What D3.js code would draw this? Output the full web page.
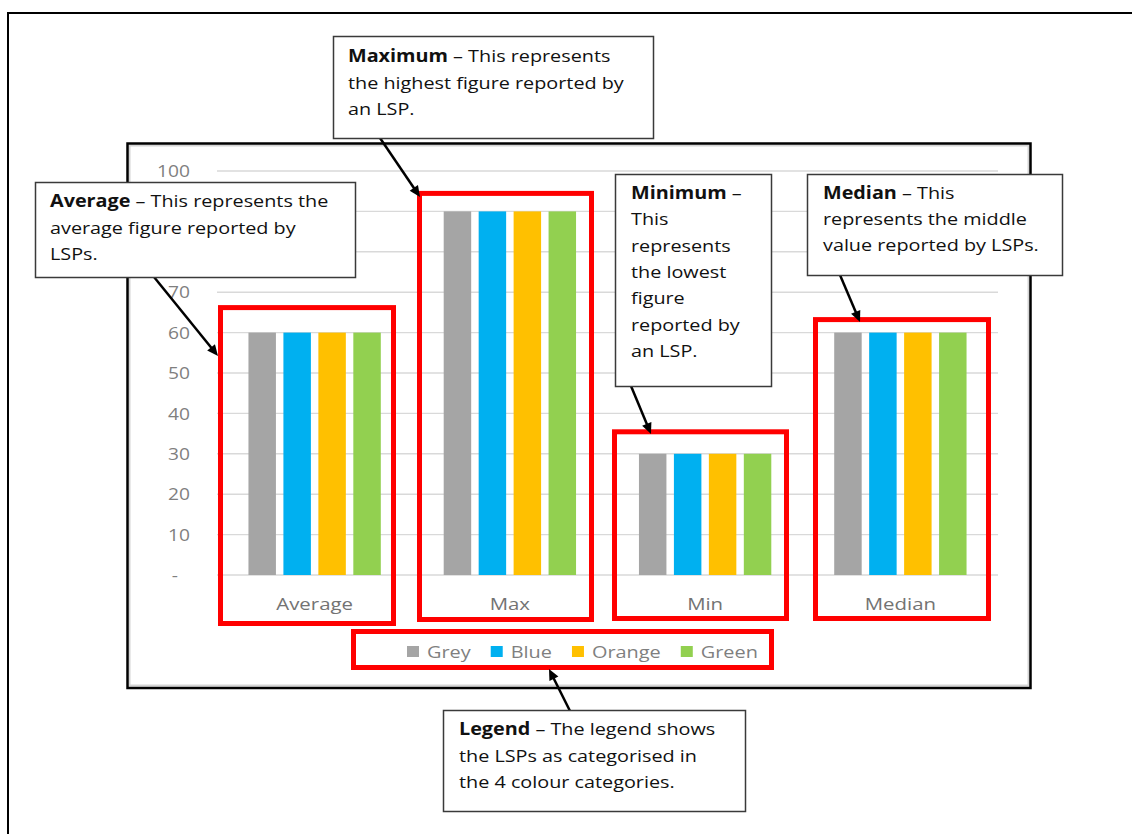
<!DOCTYPE html>
<html>
<head>
<meta charset="utf-8">
<script src="https://cdn.jsdelivr.net/npm/d3@7"></script>
<style>
  body { margin: 0; background: #fff; }
  svg { display: block; }
  text { font-family: "Open Sans", "Noto Sans", sans-serif; }
</style>
</head>
<body>
<svg id="chart" width="1132" height="834"></svg>
<script>
// ---- data ----
const categories = ["Average", "Max", "Min", "Median"];
const seriesNames = ["Grey", "Blue", "Orange", "Green"];
const greyValues = [60, 90, 30, 60];
const blueValues = [60, 90, 30, 60];
const orangeValues = [60, 90, 30, 60];
const greenValues = [60, 90, 30, 60];
const yTickValues = [0, 10, 20, 30, 40, 50, 60, 70, 80, 90, 100];
const seriesColors = ["#A5A5A5", "#00B0F0", "#FFC000", "#92D050"];

// explanatory notes placed around the chart
const noteTitles = ["Average", "Maximum", "Minimum", "Median", "Legend"];
const noteBodies = [
  ["This represents the", "average figure reported by", "LSPs."],
  ["This represents", "the highest figure reported by", "an LSP."],
  ["", "This", "represents", "the lowest", "figure", "reported by", "an LSP."],
  ["This", "represents the middle", "value reported by LSPs."],
  ["The legend shows", "the LSPs as categorised in", "the 4 colour categories."]
];

const seriesValues = [greyValues, blueValues, orangeValues, greenValues];
const rows = categories.map((c, i) => ({
  category: c,
  values: seriesNames.map((s, k) => ({ series: s, value: seriesValues[k][i], color: seriesColors[k] }))
}));

const svg = d3.select("#chart");
const SX = 1.2;              // horizontal stretch for chart lettering
const SX_NOTE = 1.165;       // horizontal stretch for note lettering
const SX_LEG = 1.17;
const DASH = "\u2013";

// page frame
svg.append("rect").attr("x", 8).attr("y", 13).attr("width", 1200).attr("height", 900)
  .attr("fill", "none").attr("stroke", "#000").attr("stroke-width", 2);

// chart frame
svg.append("rect").attr("x", 129.5).attr("y", 145.5).attr("width", 899).attr("height", 540)
  .attr("fill", "#fff").attr("stroke", "#d4d4d4").attr("stroke-width", 2);
svg.append("rect").attr("x", 127.5).attr("y", 143.5).attr("width", 903).attr("height", 544.5)
  .attr("fill", "none").attr("stroke", "#000").attr("stroke-width", 2.5);

// ---- scales ----
const plotLeft = 217, plotRight = 998, plotTop = 171, plotBottom = 575;
const y = d3.scaleLinear().domain([0, 100]).range([plotBottom, plotTop]);
const x0 = d3.scaleBand().domain(categories).range([plotLeft, plotRight]).padding(0);
const x1 = d3.scaleBand().domain(seriesNames).range([0, x0.bandwidth()])
  .paddingInner(0.214).paddingOuter(0.9);

// gridlines
svg.append("g").selectAll("line").data(yTickValues).join("line")
  .attr("x1", plotLeft).attr("x2", plotRight)
  .attr("y1", d => y(d)).attr("y2", d => y(d))
  .attr("stroke", "#d9d9d9").attr("stroke-width", 1.4);

// y axis labels
const yAxis = svg.append("g").attr("transform", `translate(${plotLeft},0)`)
  .call(d3.axisLeft(y).tickValues(yTickValues).tickSize(0)
    .tickFormat(d => d === 0 ? "-" : d3.format("d")(d)));
yAxis.select(".domain").remove();
yAxis.selectAll("text")
  .attr("font-family", "Open Sans").attr("font-size", 16).attr("fill", "#7f7f7f")
  .attr("dy", "0.36em")
  .attr("x", d => (d === 0 ? -39 : -27) / SX)
  .attr("transform", `scale(${SX},1)`);

// category labels
const xAxis = svg.append("g").attr("transform", `translate(0,${plotBottom})`)
  .call(d3.axisBottom(x0).tickSize(0));
xAxis.select(".domain").remove();
xAxis.selectAll(".tick text")
  .attr("font-family", "Open Sans").attr("font-size", 17).attr("fill", "#737373")
  .attr("y", 35).attr("dy", 0)
  .attr("transform", `scale(${SX},1)`);
xAxis.selectAll(".tick").attr("transform", d => `translate(${x0(d) + x0.bandwidth() / 2},0)`);

// bars
svg.append("g").selectAll("g").data(rows).join("g")
  .attr("transform", d => `translate(${x0(d.category)},0)`)
  .selectAll("rect").data(d => d.values).join("rect")
  .attr("x", d => x1(d.series))
  .attr("width", x1.bandwidth())
  .attr("y", d => y(d.value))
  .attr("height", d => y(0) - y(d.value))
  .attr("fill", d => d.color);

// red highlight around each category group
const highlightInset = [3.5, 7.25, 7, 12.75];
const highlightWidth = [173, 172, 172, 173];
const highlightGap = [25, 18, 22, 13];
const highlightBottom = [623.5, 619.5, 618.5, 618.5];
svg.append("g").selectAll("rect").data(rows).join("rect")
  .attr("x", (d, i) => x0(d.category) + highlightInset[i])
  .attr("y", (d, i) => y(d3.max(d.values, v => v.value)) - highlightGap[i])
  .attr("width", (d, i) => highlightWidth[i])
  .attr("height", (d, i) => highlightBottom[i] - (y(d3.max(d.values, v => v.value)) - highlightGap[i]))
  .attr("fill", "none").attr("stroke", "#ff0000").attr("stroke-width", 5);

// legend
const legend = svg.append("g");
let lx = 407;
seriesNames.forEach((name, k) => {
  legend.append("rect").attr("x", lx).attr("y", 646).attr("width", 12).attr("height", 11)
    .attr("fill", seriesColors[k]);
  const t = legend.append("text").text(name)
    .attr("font-size", 17).attr("fill", "#7f7f7f")
    .attr("transform", `translate(${lx + 20},658) scale(${SX_LEG},1)`);
  lx += 20 + t.node().getComputedTextLength() * SX_LEG + 20;
});
svg.append("rect").attr("x", 353.5).attr("y", 631.5).attr("width", 418).attr("height", 36)
  .attr("fill", "none").attr("stroke", "#ff0000").attr("stroke-width", 5);

// ---- notes with arrows ----
const notes = [
  { box: [35, 182, 320, 95], tx: 50, ty: 207, lh: 26.5, from: [154, 277], to: [218, 356] },
  { box: [333, 36, 320, 102], tx: 348, ty: 62, lh: 26.5, from: [380, 138], to: [420, 197] },
  { box: [615, 174, 156, 212], tx: 631, ty: 199, lh: 26.3, from: [631, 386], to: [651, 434] },
  { box: [807, 174, 255, 101], tx: 823, ty: 199, lh: 26.2, from: [840, 275], to: [860, 322] },
  { box: [443, 710, 302, 101], tx: 459, ty: 735, lh: 26.5, from: [570, 711], to: [549, 669] }
];

function arrow(g, a, b) {
  const dx = b[0] - a[0], dy = b[1] - a[1];
  const len = Math.hypot(dx, dy), ux = dx / len, uy = dy / len;
  const hl = 11, hw = 5;
  const bx = b[0] - ux * hl, by = b[1] - uy * hl;
  g.append("line").attr("x1", a[0]).attr("y1", a[1]).attr("x2", bx + ux * 2).attr("y2", by + uy * 2)
    .attr("stroke", "#000").attr("stroke-width", 2.5);
  g.append("path")
    .attr("d", `M${b[0]},${b[1]}L${bx - uy * hw},${by + ux * hw}L${bx + uy * hw},${by - ux * hw}Z`)
    .attr("fill", "#000");
}

notes.forEach((n, i) => {
  const g = svg.append("g");
  arrow(g, n.from, n.to);
  g.append("rect").attr("x", n.box[0] + 0.5).attr("y", n.box[1] + 0.5)
    .attr("width", n.box[2]).attr("height", n.box[3])
    .attr("fill", "#fff").attr("stroke", "#3a3a3a").attr("stroke-width", 1.5);
  const body = noteBodies[i];
  body.forEach((line, j) => {
    const t = g.append("text").attr("font-size", 17).attr("fill", "#111")
      .attr("transform", `translate(${n.tx},${n.ty + j * n.lh}) scale(${SX_NOTE},1)`);
    if (j === 0) {
      t.append("tspan").attr("font-weight", 700).text(noteTitles[i]);
      t.append("tspan").text(" " + DASH + (line ? " " + line : ""));
    } else {
      t.text(line);
    }
  });
});
</script>
</body>
</html>
